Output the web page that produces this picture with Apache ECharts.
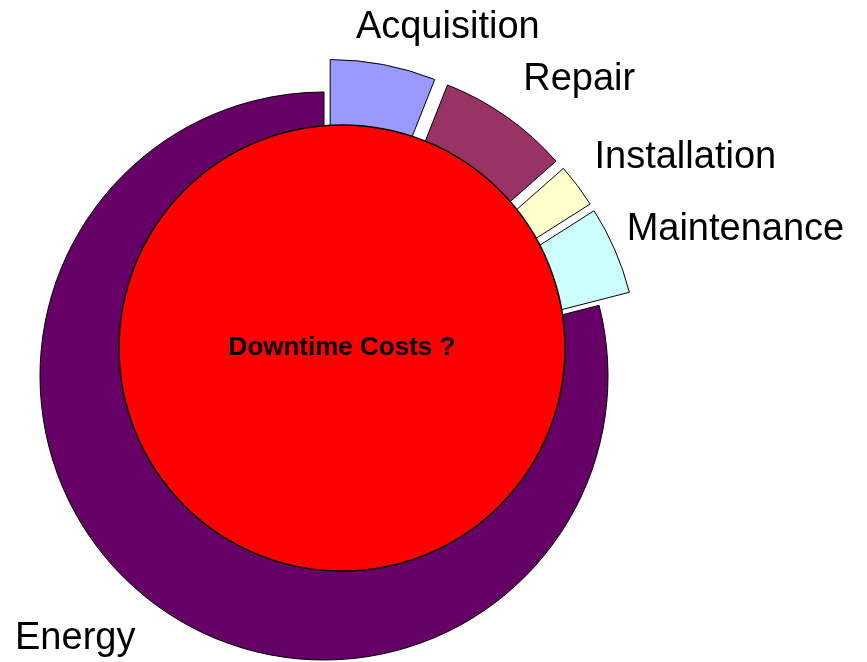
<!DOCTYPE html>
<html>
<head>
<meta charset="utf-8">
<script src="https://cdn.jsdelivr.net/npm/echarts@6/dist/echarts.min.js"></script>
<style>
  html, body { margin: 0; padding: 0; background: #fff; }
  #main { width: 867px; height: 662px; }
</style>
</head>
<body>
<div id="main"></div>
<script>
// cost shares (percent of life cycle cost)
var categories = ['Acquisition', 'Repair', 'Installation', 'Maintenance', 'Energy'];
var shares = [6, 7.5, 2.5, 5, 79];
var exploded = [true, true, true, true, false];
var sliceColors = ['#9999FF', '#993366', '#FFFFCC', '#CCFFFF', '#660066'];
var centerLabel = 'Downtime Costs ?';

// small label nudges so the labels sit where the original ones do
var labelNudge = [[-40, 2], [-11, -4], [-20, -4], [-30, -5], [15, 7]];

var chart = echarts.init(document.getElementById('main'));

var pieData = categories.map(function (name, i) {
    return {
        name: name,
        value: shares[i],
        selected: exploded[i],
        itemStyle: { color: sliceColors[i] }
    };
});

var option = {
    animation: false,
    series: [
        {
            type: 'pie',
            center: [324, 376],
            radius: [0, 284],
            startAngle: 90,
            clockwise: true,
            selectedMode: 'multiple',
            selectedOffset: 33,
            avoidLabelOverlap: false,
            silent: true,
            itemStyle: { borderColor: '#000', borderWidth: 1 },
            select: { itemStyle: { borderColor: '#000', borderWidth: 1 } },
            emphasis: { disabled: true },
            label: {
                show: true,
                position: 'outside',
                color: '#000',
                fontSize: 38,
                fontFamily: 'Liberation Sans, Arial, sans-serif',
                distanceToLabelLine: 5
            },
            labelLine: { show: false, length: 40, length2: 0 },
            labelLayout: function (params) {
                var n = labelNudge[params.dataIndex];
                return { dx: n[0], dy: n[1] };
            },
            data: pieData
        },
        {
            type: 'pie',
            center: [342, 348],
            radius: [0, 223],
            silent: true,
            z: 5,
            emphasis: { disabled: true },
            itemStyle: { color: '#FF0000', borderColor: '#000', borderWidth: 1.5 },
            label: {
                show: true,
                position: 'center',
                color: '#000',
                fontSize: 26,
                fontWeight: 'bold',
                fontFamily: 'Liberation Sans, Arial, sans-serif',
                padding: [4, 0, 0, 0]
            },
            labelLine: { show: false },
            data: [{ name: centerLabel, value: 1 }]
        }
    ]
};
chart.setOption(option);
</script>
</body>
</html>
